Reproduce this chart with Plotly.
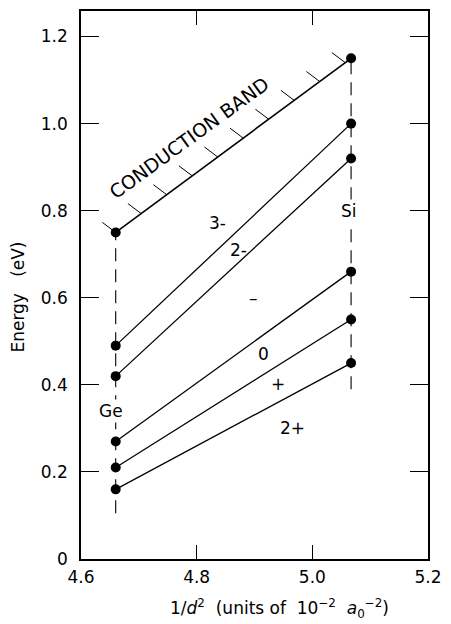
import plotly.graph_objects as go
import numpy as np

# ---- data ----
x_ge = 4.66
x_si = 5.067
levels = ["CB", "3-/2-", "2-/-", "-/0", "0/+", "+/2+"]
e_ge = [0.75, 0.49, 0.42, 0.27, 0.21, 0.16]
e_si = [1.15, 1.00, 0.92, 0.66, 0.55, 0.45]

region_labels = ["3-", "2-", "\u2013", "0", "+", "2+"]
region_x = [4.836, 4.872, 4.899, 4.915, 4.940, 4.966]
region_y = [0.771, 0.709, 0.600, 0.471, 0.403, 0.302]

ge_dash_bottom = 0.105
si_dash_bottom = 0.39

x_ticks = [4.6, 4.8, 5.0, 5.2]
x_ticktext = ["4.6", "4.8", "5.0", "5.2"]
y_ticks = [0, 0.2, 0.4, 0.6, 0.8, 1.0, 1.2]
y_ticktext = ["0", "0.2", "0.4", "0.6", "0.8", "1.0", "1.2"]

FONT = "DejaVu Sans"
NB = "\u00a0"

fig = go.Figure()

# dashed verticals
for xv, yb, yt in [(x_ge, ge_dash_bottom, e_ge[0]), (x_si, si_dash_bottom, e_si[0])]:
    fig.add_trace(go.Scatter(x=[xv, xv], y=[yb, yt], mode="lines",
                             line=dict(color="black", width=1.1, dash="13px,8px"), hoverinfo="skip"))

# level lines
for i, (a, b) in enumerate(zip(e_ge, e_si)):
    fig.add_trace(go.Scatter(x=[x_ge, x_si], y=[a, b], mode="lines+markers",
                             line=dict(color="black", width=1.6 if i == 0 else 1.3),
                             marker=dict(color="black", size=10), hoverinfo="skip"))

# conduction band hatches
n_h = 10
fr = np.linspace(0, 0.975, n_h)
hx, hy = [], []
for f in fr:
    bx = x_ge + f * (x_si - x_ge)
    by = e_ge[0] + f * (e_si[0] - e_ge[0])
    hx += [bx, bx - 0.023, None]
    hy += [by, by + 0.023, None]
fig.add_trace(go.Scatter(x=hx, y=hy, mode="lines", line=dict(color="black", width=1),
                         hoverinfo="skip"))

ann = []
ann.append(dict(x=4.786, y=0.968, text="CONDUCTION BAND", showarrow=False, textangle=-36,
                font=dict(family=FONT, size=19, color="black")))
for t, xx, yy in zip(region_labels, region_x, region_y):
    ann.append(dict(x=xx, y=yy, text=t, showarrow=False,
                    font=dict(family=FONT, size=17, color="black")))
ann.append(dict(x=4.652, y=0.34, text="Ge", showarrow=False, bgcolor="white",
                font=dict(family=FONT, size=17, color="black")))
ann.append(dict(x=5.064, y=0.80, text="Si", showarrow=False, bgcolor="white",
                font=dict(family=FONT, size=17, color="black")))
# axis titles
ann.append(dict(xref="paper", yref="paper", x=-0.18, y=0.478, xanchor="center", yanchor="middle",
                text="Energy" + NB * 3 + "(eV)", textangle=-90, showarrow=False,
                font=dict(family=FONT, size=17, color="black")))
ann.append(dict(xref="paper", yref="paper", x=0.571, y=-0.09, xanchor="center",
                text="1/<i>d</i><sup>2</sup>" + NB * 2 + "(units of" + NB * 2 + "10<sup>\u22122</sup>"
                     + NB * 2 + "<i>a</i><sub>0</sub><sup>\u22122</sup>)",
                showarrow=False, yanchor="middle", font=dict(family=FONT, size=17, color="black")))

fig.update_layout(
    width=451, height=624,
    margin=dict(l=81, r=20, t=9, b=65),
    paper_bgcolor="white", plot_bgcolor="white",
    showlegend=False,
    annotations=ann,
    xaxis=dict(range=[4.6, 5.2], tickvals=x_ticks, ticktext=x_ticktext, ticks="inside",
               ticklen=14, tickwidth=1.3, tickcolor="black", showgrid=False, zeroline=False,
               showline=True, linecolor="black", linewidth=1.6, mirror="ticks",
               tickfont=dict(family=FONT, size=17, color="black"), ticklabelstandoff=2),
    yaxis=dict(range=[0, 1.2586], tickvals=y_ticks, ticktext=y_ticktext, ticks="inside",
               ticklen=18, tickwidth=1.3, tickcolor="black", showgrid=False, zeroline=False,
               showline=True, linecolor="black", linewidth=1.6, mirror="ticks",
               tickfont=dict(family=FONT, size=17, color="black"), ticklabelstandoff=8),
)

fig.write_html("out.html")
